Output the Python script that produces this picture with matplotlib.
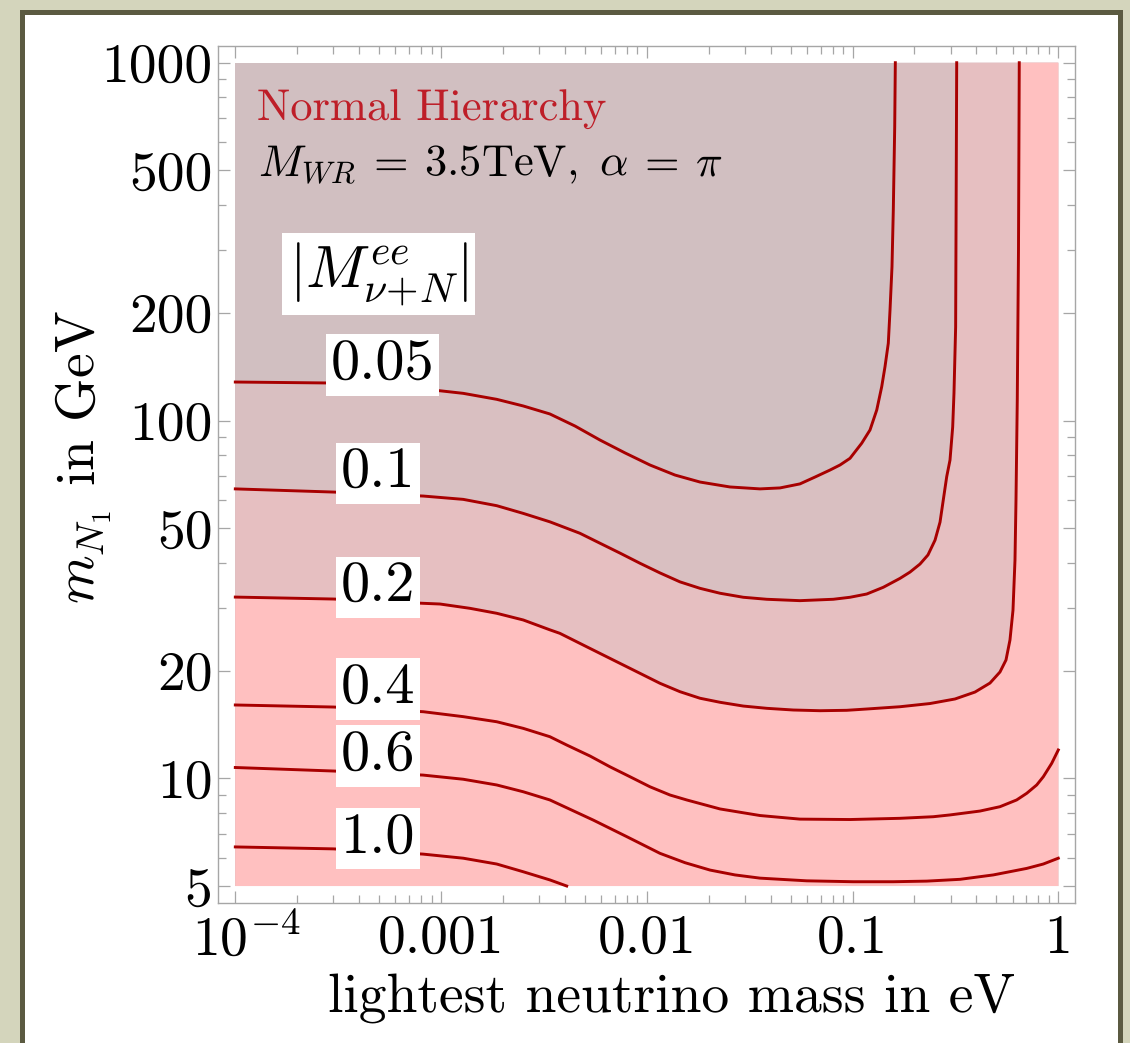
import matplotlib
matplotlib.use('Agg')
import matplotlib.pyplot as plt
from matplotlib.patches import Rectangle
from matplotlib.ticker import FixedLocator, NullFormatter
import matplotlib.transforms as mtransforms

plt.rcParams['mathtext.fontset'] = 'cm'
plt.rcParams['font.family'] = 'cmr10'
plt.rcParams['axes.formatter.use_mathtext'] = True
plt.rcParams['text.hinting'] = 'no_hinting'
plt.rcParams['text.hinting_factor'] = 1

# ---------------- data ----------------
levels = [0.05, 0.1, 0.2, 0.4, 0.6, 1.0]
level_labels = ['0.05', '0.1', '0.2', '0.4', '0.6', '1.0']

c005_x = [1e-4, 2.89e-4, 9.88e-4, 1.282e-3, 1.865e-3, 2.51e-3, 3.38e-3, 4.48e-3, 5.92e-3, 7.83e-3,
          1.036e-2, 1.371e-2, 1.814e-2, 2.537e-2, 3.55e-2, 4.44e-2, 5.55e-2, 6.57e-2, 7.77e-2,
          8.69e-2, 9.72e-2, 0.1108, 0.1216, 0.1311, 0.1386, 0.1438, 0.1492, 0.1521, 0.1555,
          0.1578, 0.1603, 0.1614]
c005_y = [128.1, 127.3, 121.1, 119.1, 114.6, 109.8, 104.3, 96.5, 88.2, 81.2,
          75.1, 70.4, 67.3, 65.2, 64.4, 64.8, 66.5, 69.5, 72.7,
          75.1, 78.4, 86.4, 94.1, 107.0, 124.3, 141.4, 164.4, 203.6, 269.1,
          387.5, 662.4, 1000.0]

c01_x = [1e-4, 3.0e-4, 8.2e-4, 1.282e-3, 1.865e-3, 2.51e-3, 3.38e-3, 4.73e-3, 5.92e-3, 7.41e-3,
         9.27e-3, 1.159e-2, 1.45e-2, 1.814e-2, 2.27e-2, 2.944e-2, 3.826e-2, 5.55e-2, 8.06e-2,
         9.72e-2, 0.1172, 0.1411, 0.170, 0.1902, 0.2127, 0.2326, 0.2517, 0.2662, 0.2761,
         0.2869, 0.2976, 0.3067, 0.3112, 0.3170, 0.3208]
c01_y = [64.4, 63.1, 61.5, 60.2, 57.8, 55.0, 52.1, 48.4, 45.4, 42.6,
         39.9, 37.5, 35.4, 33.96, 32.9, 32.06, 31.65, 31.37, 31.65,
         32.06, 32.74, 34.19, 36.2, 37.7, 39.7, 42.1, 46.3, 52.0, 60.0,
         69.7, 77.5, 95.9, 119.4, 182.5, 1000.0]

c02_x = [1e-4, 3.0e-4, 8.17e-4, 9.88e-4, 1.382e-3, 1.865e-3, 2.51e-3, 3.38e-3, 3.78e-3, 5.1e-3,
         6.87e-3, 9.27e-3, 1.159e-2, 1.45e-2, 1.814e-2, 2.27e-2, 2.944e-2, 3.826e-2, 5.15e-2,
         6.95e-2, 9.37e-2, 0.1172, 0.170, 0.2379, 0.3147, 0.3937, 0.4656, 0.5206, 0.5569,
         0.5823, 0.6023, 0.6159, 0.6229, 0.6319, 0.6405, 0.6461]
c02_y = [32.1, 31.7, 30.84, 30.7, 29.86, 28.92, 27.7, 26.0, 25.42, 23.32,
         21.41, 19.65, 18.43, 17.46, 16.74, 16.31, 15.92, 15.69, 15.52,
         15.45, 15.49, 15.62, 15.85, 16.18, 16.66, 17.42, 18.46, 19.82, 21.41,
         24.35, 29.5, 40.7, 59.95, 114.1, 299.6, 1000.0]

c04_x = [1e-4, 3.0e-4, 8.2e-4, 1.282e-3, 1.865e-3, 2.51e-3, 3.38e-3, 4.08e-3, 5.3e-3, 6.62e-3,
         8.29e-3, 1.036e-2, 1.297e-2, 1.563e-2, 2.27e-2, 3.55e-2, 5.55e-2, 9.72e-2, 0.170,
         0.2469, 0.2976, 0.4163, 0.5206, 0.6276, 0.7023, 0.7852, 0.8455, 0.9288, 1.0]
c04_y = [16.03, 15.82, 15.35, 14.87, 14.39, 13.79, 13.07, 12.39, 11.54, 10.77,
         10.10, 9.47, 8.98, 8.70, 8.21, 7.87, 7.69, 7.67, 7.73,
         7.81, 7.90, 8.10, 8.33, 8.70, 9.08, 9.58, 10.10, 11.01, 12.0]

c06_x = [1e-4, 3.0e-4, 8.17e-4, 1.282e-3, 1.865e-3, 2.51e-3, 3.38e-3, 5.5e-3, 7.99e-3, 1.159e-2,
         1.533e-2, 2.03e-2, 2.683e-2, 3.55e-2, 5.99e-2, 0.1005, 0.1578, 0.2293, 0.3329,
         0.4833, 0.7023, 0.8455, 1.0]
c06_y = [10.72, 10.48, 10.21, 9.94, 9.58, 9.17, 8.70, 7.64, 6.87, 6.17,
         5.81, 5.54, 5.37, 5.26, 5.17, 5.14, 5.14, 5.16, 5.22,
         5.37, 5.60, 5.76, 5.98]

c10_x = [1e-4, 3.0e-4, 8.17e-4, 1.282e-3, 1.865e-3, 2.51e-3, 3.38e-3, 4.08e-3]
c10_y = [6.43, 6.35, 6.14, 5.98, 5.76, 5.48, 5.20, 5.0]

contours_x = [c005_x, c01_x, c02_x, c04_x, c06_x, c10_x]
contours_y = [c005_y, c01_y, c02_y, c04_y, c06_y, c10_y]

x_range = [1e-4, 1.0]
y_range = [5.0, 1000.0]

xtick_vals = [1e-4, 1e-3, 1e-2, 1e-1, 1.0]
xtick_labels = [r'$10^{-4}$', '0.001', '0.01', '0.1', '1']
ytick_vals = [5, 10, 20, 50, 100, 200, 500, 1000]
ytick_labels = ['5', '10', '20', '50', '100', '200', '500', '1000']

# ---------------- styling ----------------
W, H = 1130, 1043
fig = plt.figure(figsize=(W / 100, H / 100), dpi=100)
fig.patch.set_facecolor('#D4D5BC')

def fx(px):
    return px / W

def fy(py):
    return 1 - py / H

fig.add_artist(Rectangle((fx(20), -0.01), fx(1123) - fx(20), fy(10) + 0.01,
                         transform=fig.transFigure, facecolor='#5B5A41', edgecolor='none', zorder=0))
fig.add_artist(Rectangle((fx(25), -0.01), fx(1118) - fx(25), fy(15) + 0.01,
                         transform=fig.transFigure, facecolor='white', edgecolor='none', zorder=0))

ax_l, ax_r, ax_t, ax_b = 218, 1075, 46, 903
ax = fig.add_axes([fx(ax_l), fy(ax_b), fx(ax_r) - fx(ax_l), fy(ax_t) - fy(ax_b)])
ax.set_facecolor('white')
ax.set_xscale('log')
ax.set_yscale('log')
ax.set_xlim(10 ** -4.0841, 10 ** 0.0812)
ax.set_ylim(10 ** 0.6515, 10 ** 3.0467)

def axx(px):
    return (px - ax_l) / (ax_r - ax_l)

def axy(py):
    return (ax_b - py) / (ax_b - ax_t)

# background fill bands
band_colors = ['#D1BFC1', '#D9BFC1', '#E6BFC1', '#FFC0C0']
x0, x1 = x_range
y0, y1 = y_range
ax.fill([x0, x1, x1, x0], [y0, y0, y1, y1], color=band_colors[0], lw=0, zorder=1)
for k in range(3):
    px = list(contours_x[k]) + [x1, x1, x0]
    py = list(contours_y[k]) + [y1, y0, y0]
    ax.fill(px, py, color=band_colors[k + 1], lw=0, zorder=1)

for cx, cy in zip(contours_x, contours_y):
    ax.plot(cx, cy, color='#A80000', lw=2.1, zorder=3, solid_joinstyle='round')

# contour labels
label_pos = [(5.19e-4, 142.9), (4.94e-4, 71.3), (4.94e-4, 34.2),
             (4.94e-4, 17.77), (4.94e-4, 11.54), (4.94e-4, 6.77)]
for (lx, ly), txt in zip(label_pos, level_labels):
    ax.text(lx, ly, txt, fontsize=42, ha='center', va='center', zorder=5,
            bbox=dict(boxstyle='square,pad=0.08', fc='white', ec='none'))

# annotations
ax.text(axx(257), axy(120), 'Normal Hierarchy',
        transform=ax.transAxes, fontsize=32, color='#BE1E28', ha='left', va='baseline', zorder=5)
ax.text(axx(258), axy(175),
        r'$M_{WR}\:=\:3.5\mathrm{TeV},\ \alpha\:=\:\pi$',
        transform=ax.transAxes, fontsize=32, color='black', ha='left', va='baseline', zorder=5)
ax.text(axx(378.5), axy(274), r'$|M^{ee}_{\nu\!+\!N}|$',
        transform=ax.transAxes, fontsize=43, ha='center', va='center', zorder=5,
        bbox=dict(boxstyle='square,pad=0.12', fc='white', ec='none'))

# axes labels
ax.text(axx(672), axy(1013), 'lightest neutrino mass in eV',
        transform=ax.transAxes, fontsize=40, ha='center', va='baseline')
ax.text(axx(83), axy(457), r'$m_{N_1}$ in GeV',
        transform=ax.transAxes, fontsize=40, ha='center', va='center', rotation=90)

# ticks
frame_col = '#A6A6A6'
for s in ax.spines.values():
    s.set_color(frame_col)
    s.set_linewidth(1.0)

ax.xaxis.set_major_locator(FixedLocator(xtick_vals))
ax.set_xticklabels(xtick_labels)
xminor = [m * 10.0 ** e for e in range(-4, 0) for m in range(2, 10)]
ax.xaxis.set_minor_locator(FixedLocator(xminor))
ax.yaxis.set_major_locator(FixedLocator(ytick_vals))
ax.set_yticklabels(ytick_labels)
yminor = [6, 7, 8, 9, 30, 40, 60, 70, 80, 90, 300, 400, 600, 700, 800, 900]
ax.yaxis.set_minor_locator(FixedLocator(yminor))
ax.xaxis.set_minor_formatter(NullFormatter())
ax.yaxis.set_minor_formatter(NullFormatter())

ax.tick_params(which='both', direction='in', top=True, right=True, color=frame_col, width=0.9)
ax.tick_params(which='major', length=8.5, labelsize=40)
ax.tick_params(which='minor', length=6.0)
ax.tick_params(axis='x', which='major', pad=8)
ax.tick_params(axis='y', which='major', pad=4)

# Mathematica places the 10^-4 label slightly to the right of its tick
lbl = ax.get_xticklabels()[0]
lbl.set_transform(lbl.get_transform() + mtransforms.ScaledTranslation(11 / 100, 0, fig.dpi_scale_trans))

fig.savefig('out.png', dpi=100, facecolor=fig.get_facecolor())
